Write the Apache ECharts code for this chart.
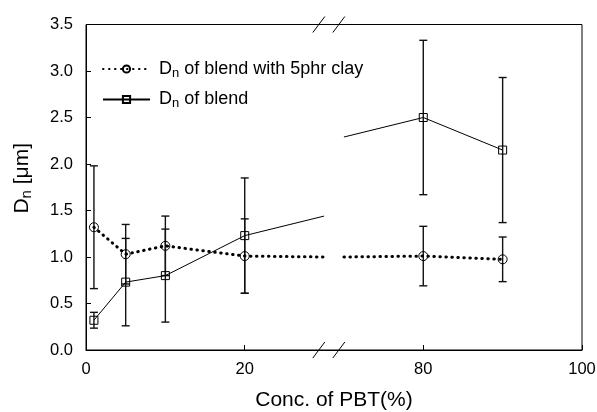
<!DOCTYPE html>
<html lang="en" style="height: 100%">
<head>
  <meta charset="utf-8">
</head>
<body style="height: 100%; margin: 0; background: #fff">
  <div id="container" style="width: 597px; height: 412px"></div>

  <script type="text/javascript" src="https://cdn.jsdelivr.net/npm/echarts@6/dist/echarts.min.js"></script>

  <script type="text/javascript">
    // PBT concentration (%) of each measured sample
    var concX = [1, 5, 10, 20, 80, 90];
    // Dn of blend with 5phr clay: mean and error
    var clayMean = [1.32, 1.03, 1.12, 1.01, 1.01, 0.975];
    var clayErr = [0.66, 0.32, 0.32, 0.40, 0.32, 0.24];
    // Dn of blend: mean and error
    var blendMean = [0.32, 0.73, 0.80, 1.23, 2.50, 2.15];
    var blendErr = [0.085, 0.47, 0.50, 0.62, 0.83, 0.78];
    // where the lines are cut at the axis break (x = 30 and x = 70)
    var edgeX = [30, 70];
    var clayEdge = [1.0, 1.0];
    var blendEdge = [1.44, 2.29];
    var xTickLabels = [0, 20, 80, 100];

    // broken axis: 30..70 is cut out and replaced by a short gap
    var SHIFT = 37.5;
    function toAxis(x) { return x <= 30 ? x : x - SHIFT; }
    function fromAxis(v) { return v <= 31 ? v : v + SHIFT; }
    var BREAK_AT = 30.6;

    var FONT = "'Liberation Sans', Arial, sans-serif";

    function lineData(means, edges) {
      var d = [];
      var cut = false;
      for (var i = 0; i < concX.length; i++) {
        if (concX[i] > 30 && !cut) {
          cut = true;
          d.push({ value: [toAxis(edgeX[0]), edges[0]], symbol: 'none' });
          d.push([BREAK_AT, '-']);
          d.push({ value: [toAxis(edgeX[1]), edges[1]], symbol: 'none' });
        }
        d.push([toAxis(concX[i]), means[i]]);
      }
      return d;
    }

    function errData(means, errs) {
      return concX.map(function (x, i) {
        return [toAxis(x), means[i] - errs[i], means[i] + errs[i]];
      });
    }

    function renderErr(params, api) {
      var top = api.coord([api.value(0), api.value(2)]);
      var bot = api.coord([api.value(0), api.value(1)]);
      var w = 4;
      var st = { stroke: '#111', lineWidth: 1.4 };
      return {
        type: 'group',
        children: [
          { type: 'line', shape: { x1: top[0], y1: top[1], x2: bot[0], y2: bot[1] }, style: st },
          { type: 'line', shape: { x1: top[0] - w, y1: top[1], x2: top[0] + w, y2: top[1] }, style: st },
          { type: 'line', shape: { x1: bot[0] - w, y1: bot[1], x2: bot[0] + w, y2: bot[1] }, style: st }
        ]
      };
    }

    function renderBreak(params, api) {
      var p = api.coord([api.value(0), api.value(1)]);
      var st = { stroke: '#000', lineWidth: 1 };
      return {
        type: 'group',
        children: [-10, 10].map(function (off) {
          return {
            type: 'line',
            shape: { x1: p[0] + off - 6, y1: p[1] + 8, x2: p[0] + off + 6, y2: p[1] - 8 },
            style: st
          };
        })
      };
    }

    var dom = document.getElementById('container');
    var myChart = echarts.init(dom, null, { renderer: 'canvas' });

    var legendRich = {
      a: { fontSize: 18, fontFamily: FONT, color: '#000' },
      s: { fontSize: 13, fontFamily: FONT, color: '#000', padding: [8, 0, 0, 0] }
    };

    var option = {
      animation: false,
      textStyle: { fontFamily: FONT },
      grid: {
        left: 86, right: 15, top: 24.5, bottom: 62,
        outerBoundsMode: 'none',
        show: true, borderColor: '#000', borderWidth: 1
      },
      legend: {
        orient: 'vertical',
        left: 97,
        top: 55,
        itemWidth: 47,
        itemHeight: 9,
        itemGap: 11,
        data: ['clay', 'blend'],
        formatter: function (name) {
          return name === 'clay'
            ? '{a|D}{s|n}{a| of blend with 5phr clay}'
            : '{a|D}{s|n}{a| of blend}';
        },
        textStyle: { rich: legendRich, padding: [0, 0, 0, 4] }
      },
      xAxis: {
        type: 'value',
        min: 0,
        max: toAxis(100),
        name: 'Conc. of PBT(%)',
        nameLocation: 'middle',
        nameGap: 40,
        nameTextStyle: { fontSize: 21, color: '#000', fontFamily: FONT },
        axisLine: { lineStyle: { color: '#000', width: 1 } },
        axisTick: {
          inside: true, length: 5,
          customValues: xTickLabels.map(toAxis),
          lineStyle: { color: '#000' }
        },
        axisLabel: {
          customValues: xTickLabels.map(toAxis),
          formatter: function (v) { return String(Math.round(fromAxis(v))); },
          fontSize: 16.5, color: '#000', margin: 11
        },
        splitLine: { show: false }
      },
      yAxis: {
        type: 'value',
        min: 0,
        max: 3.5,
        interval: 0.5,
        name: '{a|D}{s|n}{a| [μm]}',
        nameLocation: 'middle',
        nameGap: 52,
        nameTextStyle: {
          padding: [0, 0, 0, 18],
          rich: {
            a: { fontSize: 21, fontFamily: FONT, color: '#000' },
            s: { fontSize: 15, fontFamily: FONT, color: '#000', padding: [9, 0, 0, 0] }
          }
        },
        axisLine: { show: true, lineStyle: { color: '#000', width: 1 } },
        axisTick: { inside: true, length: 5, lineStyle: { color: '#000' } },
        axisLabel: {
          formatter: function (v) { return v.toFixed(1); },
          fontSize: 16.5, color: '#000', margin: 13
        },
        splitLine: { show: false }
      },
      series: [
        {
          type: 'custom',
          renderItem: renderErr,
          data: errData(clayMean, clayErr),
          encode: { x: 0, y: [1, 2] },
          silent: true,
          z: 1
        },
        {
          type: 'custom',
          renderItem: renderErr,
          data: errData(blendMean, blendErr),
          encode: { x: 0, y: [1, 2] },
          silent: true,
          z: 1
        },
        {
          type: 'custom',
          renderItem: renderBreak,
          data: [[BREAK_AT, 0], [BREAK_AT, 3.5]],
          encode: { x: 0, y: 1 },
          clip: false,
          silent: true,
          z: 5
        },
        {
          name: 'clay',
          type: 'line',
          data: lineData(clayMean, clayEdge),
          symbol: 'circle',
          symbolSize: 9,
          showAllSymbol: true,
          itemStyle: { color: 'rgba(0,0,0,0)', borderColor: '#000', borderWidth: 1 },
          lineStyle: { color: '#000', width: 3, type: [0.5, 5.5], cap: 'round' },
          z: 3
        },
        {
          name: 'blend',
          type: 'line',
          data: lineData(blendMean, blendEdge),
          symbol: 'rect',
          symbolSize: 8,
          showAllSymbol: true,
          itemStyle: { color: 'rgba(0,0,0,0)', borderColor: '#000', borderWidth: 1 },
          lineStyle: { color: '#000', width: 1 },
          z: 3
        }
      ]
    };

    myChart.setOption(option);
  </script>
</body>
</html>
